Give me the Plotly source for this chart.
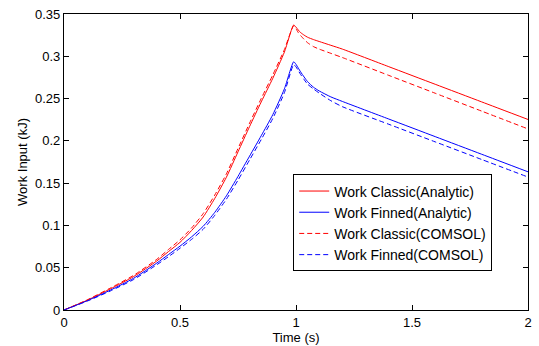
import plotly.graph_objects as go

# Time samples (s)
time_s = [0, 0.1, 0.2, 0.3, 0.4, 0.45, 0.5, 0.55, 0.6, 0.65, 0.7, 0.75, 0.8, 0.85, 0.9, 0.95, 0.99,
          1.0, 1.01, 1.02, 1.035, 1.05, 1.075, 1.1, 1.15, 1.2, 1.4, 1.6, 1.8, 2.0]

# Work input (kJ)
classic_analytic = [0, 0.0115, 0.025, 0.0395, 0.058, 0.069, 0.080, 0.094, 0.110, 0.132, 0.157,
                    0.187, 0.217, 0.246, 0.274, 0.305, 0.337,
                    0.3345, 0.331, 0.328, 0.325, 0.3225, 0.3198, 0.3175, 0.313, 0.3085,
                    0.2877, 0.2669, 0.2461, 0.2253]
finned_analytic = [0, 0.011, 0.0235, 0.0375, 0.0555, 0.0655, 0.0755, 0.0865, 0.099, 0.1155, 0.135,
                   0.158, 0.182, 0.206, 0.231, 0.2615, 0.2935,
                   0.2905, 0.286, 0.2815, 0.2755, 0.270, 0.2635, 0.259, 0.252, 0.2466,
                   0.2258, 0.2050, 0.1842, 0.1634]
classic_comsol = [0, 0.012, 0.026, 0.041, 0.060, 0.0715, 0.083, 0.097, 0.114, 0.136, 0.161,
                  0.191, 0.221, 0.250, 0.278, 0.308, 0.336,
                  0.3325, 0.328, 0.3245, 0.320, 0.316, 0.3115, 0.3085, 0.3035, 0.2985,
                  0.2774, 0.2563, 0.2352, 0.2141]
finned_comsol = [0, 0.0105, 0.0225, 0.036, 0.0535, 0.063, 0.073, 0.0835, 0.0955, 0.112, 0.131,
                 0.1535, 0.1775, 0.2015, 0.2265, 0.257, 0.290,
                 0.2875, 0.283, 0.2785, 0.2725, 0.267, 0.2615, 0.2565, 0.2475, 0.2404,
                 0.2196, 0.1988, 0.1780, 0.1572]

x_ticks = [0, 0.5, 1, 1.5, 2]
x_tick_text = ["0", "0.5", "1", "1.5", "2"]
y_ticks = [0, 0.05, 0.1, 0.15, 0.2, 0.25, 0.3, 0.35]
y_tick_text = ["0", "0.05", "0.1", "0.15", "0.2", "0.25", "0.3", "0.35"]

RED = "#ff0000"
BLUE = "#0000ff"
DASH = "5px,3px"
FONT = "Liberation Sans, Arial, Helvetica, sans-serif"


def curve(y, name, color, dash="solid"):
    return go.Scatter(x=time_s, y=y, mode="lines", name=name,
                      line=dict(color=color, width=1, dash=dash,
                                shape="spline", smoothing=0.6))


fig = go.Figure()
fig.add_trace(curve(classic_analytic, "Work Classic(Analytic)", RED))
fig.add_trace(curve(finned_analytic, "Work Finned(Analytic)", BLUE))
fig.add_trace(curve(classic_comsol, "Work Classic(COMSOL)", RED, DASH))
fig.add_trace(curve(finned_comsol, "Work Finned(COMSOL)", BLUE, DASH))

axis_common = dict(
    showgrid=False, zeroline=False,
    showline=True, linecolor="black", linewidth=1.3, mirror="allticks",
    ticks="inside", ticklen=5, tickwidth=1, tickcolor="black",
    tickfont=dict(family=FONT, size=13, color="black"),
)

fig.update_layout(
    width=539, height=346,
    margin=dict(l=64, r=7, t=9, b=36),
    paper_bgcolor="white", plot_bgcolor="white",
    font=dict(family=FONT, size=13, color="black"),
    xaxis=dict(range=[0, 2], tickvals=x_ticks, ticktext=x_tick_text,
               title=dict(text="Time (s)", font=dict(family=FONT, size=13), standoff=0),
               **axis_common),
    yaxis=dict(range=[0, 0.35], tickvals=y_ticks, ticktext=y_tick_text,
               title=dict(text="Work Input (kJ)", font=dict(family=FONT, size=13), standoff=4),
               **axis_common),
    legend=dict(x=0.494, y=0.458, xanchor="left", yanchor="top",
                bgcolor="white", bordercolor="black", borderwidth=1,
                font=dict(family=FONT, size=14, color="black"),
                tracegroupgap=0),
    showlegend=True,
)

fig.write_html("out.html")
